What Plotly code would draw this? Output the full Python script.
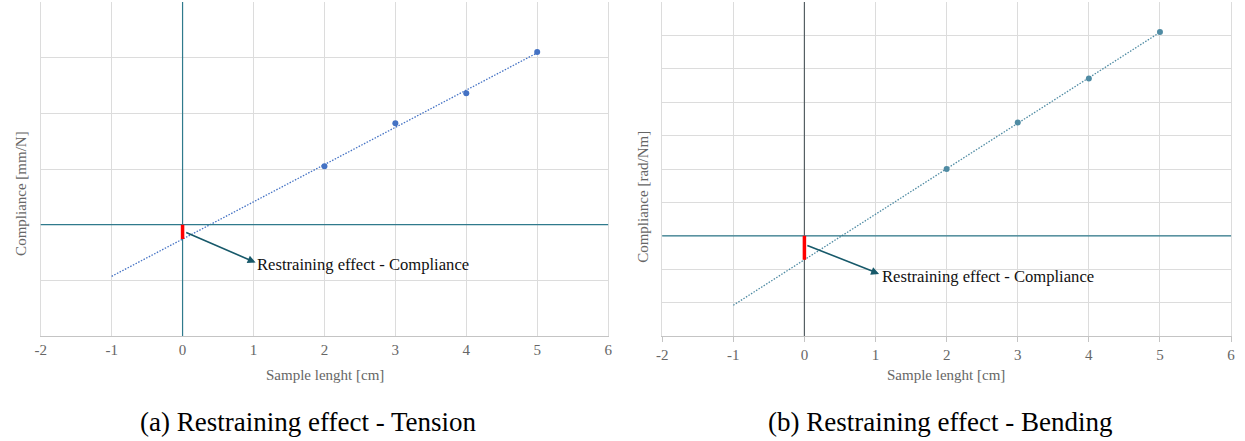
import numpy as np
import plotly.graph_objects as go

# ---- data (y in arbitrary grid units) ----
lengths = [2, 3, 4, 5]
tension_compliance = [1.05, 1.82, 2.36, 3.10]
bending_compliance = [2.00, 3.39, 4.71, 6.10]
trend_x = [-1, 5]
x_ticks = [-2, -1, 0, 1, 2, 3, 4, 5, 6]

W, H = 1245, 441
SERIF = "Liberation Serif, Times New Roman, serif"
GRID = "#dcdcdc"
TEAL = "#2f7a8c"
DARK = "#555f63"

def px_x(p):
    return p / W

def px_y(p):
    return 1 - p / H

# fits (linear trendlines)
s_t, b_t = np.polyfit(lengths, tension_compliance, 1)
s_b, b_b = np.polyfit(lengths, bending_compliance, 1)
trend_t = [s_t * x + b_t for x in trend_x]
trend_b = [s_b * x + b_b for x in trend_x]

fig = go.Figure()

C_T = "#4472C4"
C_B = "#4f8ba3"
DOT = "1.5px,1.5px"

fig.add_trace(go.Scatter(x=trend_x, y=trend_t, mode="lines",
                         line=dict(color=C_T, width=1.3, dash=DOT),
                         xaxis="x", yaxis="y", showlegend=False, hoverinfo="skip"))
fig.add_trace(go.Scatter(x=lengths, y=tension_compliance, mode="markers",
                         marker=dict(color=C_T, size=6),
                         xaxis="x", yaxis="y", showlegend=False))
fig.add_trace(go.Scatter(x=trend_x, y=trend_b, mode="lines",
                         line=dict(color=C_B, width=1.3, dash=DOT),
                         xaxis="x2", yaxis="y2", showlegend=False, hoverinfo="skip"))
fig.add_trace(go.Scatter(x=lengths, y=bending_compliance, mode="markers",
                         marker=dict(color=C_B, size=6),
                         xaxis="x2", yaxis="y2", showlegend=False))

ydom = [px_y(336), px_y(2)]
xcommon = dict(range=[-2, 6], tickvals=x_ticks, ticktext=[str(v) for v in x_ticks],
               showgrid=True, gridcolor=GRID, gridwidth=1,
               showline=True, linecolor="#c4c4c4", linewidth=1,
               zeroline=False,
               tickfont=dict(family=SERIF, size=15, color="#666666"),
               fixedrange=True)
ycommon = dict(showticklabels=False, dtick=1, showgrid=True, gridcolor=GRID,
               gridwidth=1, showline=True, linecolor=GRID, mirror=True,
               zeroline=False, ticks="", fixedrange=True)

fig.update_layout(
    width=W, height=H,
    margin=dict(l=0, r=0, t=0, b=0),
    plot_bgcolor="white", paper_bgcolor="white",
    xaxis=dict(domain=[px_x(35), px_x(607)], anchor="y", ticks="", **xcommon),
    yaxis=dict(domain=ydom, anchor="x", range=[-2, 4], **ycommon),
    xaxis2=dict(domain=[px_x(661.5), px_x(1235)], anchor="y2",
                ticks="outside", ticklen=5, tickcolor="#c4c4c4", **xcommon),
    yaxis2=dict(domain=ydom, anchor="x2", range=[-3, 7], **ycommon),
)

# axis cross lines (x = 0 and y = 0)
fig.add_shape(type="line", xref="x", yref="paper", x0=0, x1=0, y0=ydom[0], y1=ydom[1],
              line=dict(color=TEAL, width=1.2))
fig.add_shape(type="line", xref="paper", yref="y", x0=px_x(35), x1=px_x(607), y0=0, y1=0,
              line=dict(color=TEAL, width=1.2))
fig.add_shape(type="line", xref="x2", yref="paper", x0=0, x1=0, y0=ydom[0], y1=ydom[1],
              line=dict(color=DARK, width=1.2))
fig.add_shape(type="line", xref="paper", yref="y2", x0=px_x(661.5), x1=px_x(1235), y0=0, y1=0,
              line=dict(color=TEAL, width=1.2))

# red restraining segments at x = 0
fig.add_shape(type="line", xref="x", yref="y", x0=0, x1=0, y0=0, y1=b_t,
              line=dict(color="#ff0000", width=3.5))
fig.add_shape(type="line", xref="x2", yref="y2", x0=0, x1=0, y0=0, y1=b_b,
              line=dict(color="#ff0000", width=3.5))

ARROW = "#17596a"
LBL = "Restraining effect - Compliance"
# arrows
fig.add_annotation(xref="x", yref="y", x=1.03, y=-0.68, ax=0.03, ay=-0.13,
                   axref="x", ayref="y", text="", showarrow=True,
                   arrowhead=2, arrowsize=1, arrowwidth=1.6, arrowcolor=ARROW)
fig.add_annotation(xref="x", yref="y", x=1.02, y=-0.71, text=LBL,
                   showarrow=False, xanchor="left", yanchor="middle",
                   font=dict(family=SERIF, size=16.6, color="#111111"))
fig.add_annotation(xref="x2", yref="y2", x=1.05, y=-1.14, ax=0.02, ay=-0.27,
                   axref="x2", ayref="y2", text="", showarrow=True,
                   arrowhead=2, arrowsize=1, arrowwidth=1.6, arrowcolor=ARROW)
fig.add_annotation(xref="x2", yref="y2", x=1.07, y=-1.23, text=LBL,
                   showarrow=False, xanchor="left", yanchor="middle",
                   font=dict(family=SERIF, size=16.6, color="#111111"))

# axis titles
TF = dict(family=SERIF, size=15, color="#666666")
fig.add_annotation(xref="paper", yref="paper", x=px_x(322), y=px_y(375),
                   text="Sample lenght [cm]", showarrow=False, font=TF,
                   xanchor="center", yanchor="middle")
fig.add_annotation(xref="paper", yref="paper", x=px_x(948), y=px_y(375),
                   text="Sample lenght [cm]", showarrow=False, font=TF,
                   xanchor="center", yanchor="middle")
fig.add_annotation(xref="paper", yref="paper", x=px_x(15), y=px_y(193),
                   text="Compliance [mm/N]", showarrow=False, font=TF, textangle=-90,
                   xanchor="center", yanchor="middle")
fig.add_annotation(xref="paper", yref="paper", x=px_x(642), y=px_y(197),
                   text="Compliance [rad/Nm]", showarrow=False, font=TF, textangle=-90,
                   xanchor="center", yanchor="middle")

# captions
CF = dict(family=SERIF, size=27, color="#000000")
fig.add_annotation(xref="paper", yref="paper", x=px_x(304), y=px_y(422),
                   text="(a) Restraining effect - Tension", showarrow=False, font=CF,
                   xanchor="center", yanchor="middle")
fig.add_annotation(xref="paper", yref="paper", x=px_x(942), y=px_y(422),
                   text="(b) Restraining effect - Bending", showarrow=False, font=CF,
                   xanchor="center", yanchor="middle")

fig.write_html("out.html", config={"displayModeBar": False},
               post_script="document.body.style.margin='0';document.body.style.overflow='hidden';")
